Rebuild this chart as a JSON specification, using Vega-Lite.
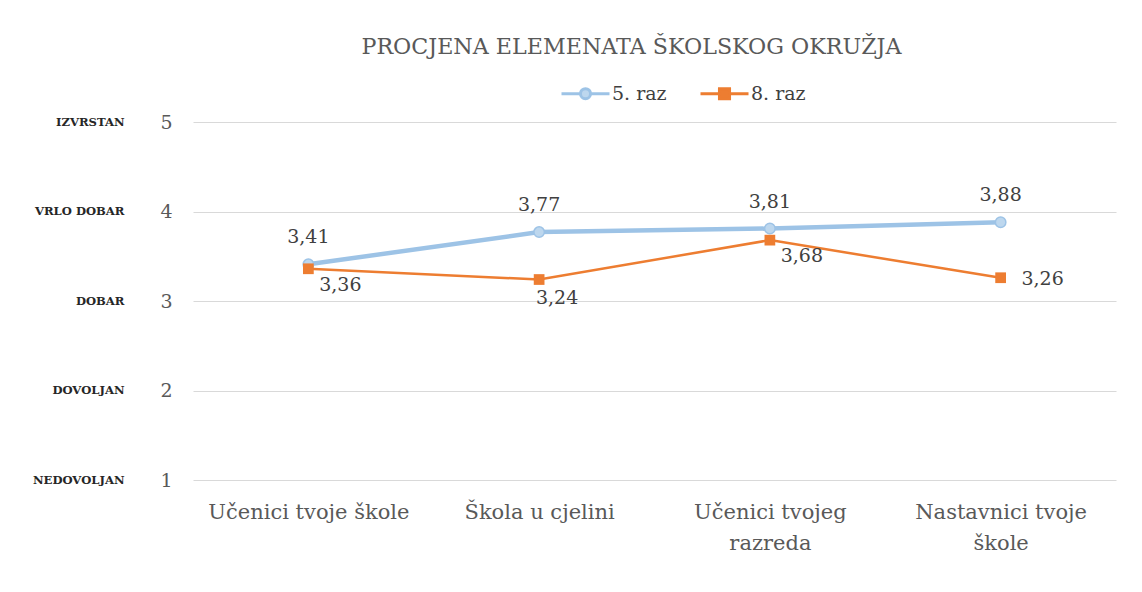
{
  "$schema": "https://vega.github.io/schema/vega-lite/v6.json",
  "autosize": "none",
  "width": 923,
  "height": 358,
  "padding": {"left": 193, "top": 122, "right": 26, "bottom": 112},
  "background": "white",
  "title": {"text": "PROCJENA ELEMENATA ŠKOLSKOG OKRUŽJA", "font": "DejaVu Serif", "fontSize": 22.2, "fontWeight": "normal", "color": "#595959", "anchor": "middle", "dx": -23, "offset": 10},
  "config": {
    "view": {"stroke": null},
    "locale": {"number": {"decimal": ",", "thousands": ".", "grouping": [3], "currency": ["", " €"]}}
  },
  "data": {"values": [
    {"category": "Učenici tvoje škole", "series": "5. raz", "value": 3.41},
    {"category": "Škola u cjelini", "series": "5. raz", "value": 3.77},
    {"category": "Učenici tvojeg razreda", "series": "5. raz", "value": 3.81},
    {"category": "Nastavnici tvoje škole", "series": "5. raz", "value": 3.88},
    {"category": "Učenici tvoje škole", "series": "8. raz", "value": 3.36},
    {"category": "Škola u cjelini", "series": "8. raz", "value": 3.24},
    {"category": "Učenici tvojeg razreda", "series": "8. raz", "value": 3.68},
    {"category": "Nastavnici tvoje škole", "series": "8. raz", "value": 3.26}
  ]},
  "encoding": {
    "x": {"field": "category", "type": "nominal", "sort": null,
      "scale": {"type": "point", "padding": 0.5},
      "axis": {"title": null, "domain": false, "ticks": false, "grid": false, "labelAngle": 0, "labelOverlap": false, "labelLimit": 300,
        "labelFont": "DejaVu Serif", "labelFontSize": 21, "labelColor": "#595959", "labelPadding": 21, "labelLineHeight": 31,
        "labelExpr": "datum.value == 'Učenici tvojeg razreda' ? ['Učenici tvojeg', 'razreda'] : datum.value == 'Nastavnici tvoje škole' ? ['Nastavnici tvoje', 'škole'] : datum.value"}},
    "y": {"field": "value", "type": "quantitative", "scale": {"domain": [1, 5], "nice": false, "zero": false}, "axis": null}
  },
  "resolve": {"axis": {"y": "independent"}},
  "layer": [
    {
      "transform": [{"filter": "datum.series == '5. raz'"}],
      "mark": {"type": "line", "color": "#9DC3E6", "strokeWidth": 4.5},
      "encoding": {
        "y": {"field": "value", "type": "quantitative", "scale": {"domain": [1, 5], "nice": false, "zero": false},
          "axis": {"title": null, "values": [1, 2, 3, 4, 5], "format": "d", "domain": false, "ticks": false, "grid": true, "gridColor": "#d9d9d9", "gridWidth": 1,
            "labelFont": "DejaVu Serif", "labelFontSize": 19, "labelColor": "#595959", "labelPadding": 21}}
      }
    },
    {
      "transform": [{"filter": "datum.series == '8. raz'"}],
      "mark": {"type": "line", "color": "#ED7D31", "strokeWidth": 2.5}
    },
    {
      "transform": [{"filter": "datum.series == '5. raz'"}],
      "mark": {"type": "point", "shape": "circle", "size": 110, "filled": false, "fill": "#BDD7EE", "stroke": "#9DC3E6", "strokeWidth": 1.5, "opacity": 1}
    },
    {
      "transform": [{"filter": "datum.series == '8. raz'"}],
      "mark": {"type": "point", "shape": "square", "size": 115, "filled": true, "color": "#ED7D31", "opacity": 1}
    },
    {
      "transform": [{"filter": "datum.series == '5. raz'"}],
      "mark": {"type": "text", "font": "DejaVu Serif", "fontSize": 19, "color": "#404040", "dy": -27},
      "encoding": {"text": {"field": "value", "type": "quantitative", "format": ".2f"}}
    },
    {
      "transform": [{"filter": "datum.series == '8. raz' && (datum.category == 'Učenici tvoje škole' || datum.category == 'Učenici tvojeg razreda')"}],
      "mark": {"type": "text", "font": "DejaVu Serif", "fontSize": 19, "color": "#404040", "dx": 32, "dy": 16},
      "encoding": {"text": {"field": "value", "type": "quantitative", "format": ".2f"}}
    },
    {
      "transform": [{"filter": "datum.series == '8. raz' && datum.category == 'Škola u cjelini'"}],
      "mark": {"type": "text", "font": "DejaVu Serif", "fontSize": 19, "color": "#404040", "dx": 18, "dy": 18},
      "encoding": {"text": {"field": "value", "type": "quantitative", "format": ".2f"}}
    },
    {
      "transform": [{"filter": "datum.series == '8. raz' && datum.category == 'Nastavnici tvoje škole'"}],
      "mark": {"type": "text", "font": "DejaVu Serif", "fontSize": 19, "color": "#404040", "dx": 42, "dy": 1},
      "encoding": {"text": {"field": "value", "type": "quantitative", "format": ".2f"}}
    },
    {
      "mark": {"type": "point", "strokeWidth": 3},
      "encoding": {
        "y": {"field": "value", "type": "quantitative", "scale": {"domain": [1, 5], "nice": false, "zero": false},
          "axis": {"orient": "left", "title": null, "values": [1, 2, 3, 4, 5], "domain": false, "ticks": false, "grid": false,
            "labelExpr": "['', 'NEDOVOLJAN', 'DOVOLJAN', 'DOBAR', 'VRLO DOBAR', 'IZVRSTAN'][datum.value]",
            "labelFont": "DejaVu Serif", "labelFontWeight": "bold", "labelFontSize": 11.6, "labelColor": "#262626", "labelPadding": 69}},
        "opacity": {"condition": {"test": "false", "value": 1}, "value": 0},
        "shape": {"field": "series", "type": "nominal",
          "scale": {"domain": ["5. raz", "8. raz"], "range": ["M-1,0H-0.21M0.21,0H1M-0.21,0A0.21,0.21,0,1,1,0.21,0A0.21,0.21,0,1,1,-0.21,0", "M-1,0H-0.21M0.21,0H1M-0.21,-0.21H0.21V0.21H-0.21Z"]},
          "legend": {"orient": "none", "legendX": 367, "legendY": -54, "direction": "horizontal", "title": null, "symbolSize": 2304, "symbolStrokeWidth": 3, "symbolOpacity": 1,
            "labelFont": "DejaVu Serif", "labelFontSize": 19, "labelColor": "#404040", "labelOffset": 1, "columnPadding": 27}},
        "fill": {"field": "series", "type": "nominal", "scale": {"domain": ["5. raz", "8. raz"], "range": ["#BDD7EE", "#ED7D31"]}},
        "stroke": {"field": "series", "type": "nominal", "scale": {"domain": ["5. raz", "8. raz"], "range": ["#9DC3E6", "#ED7D31"]}}
      }
    }
  ]
}
